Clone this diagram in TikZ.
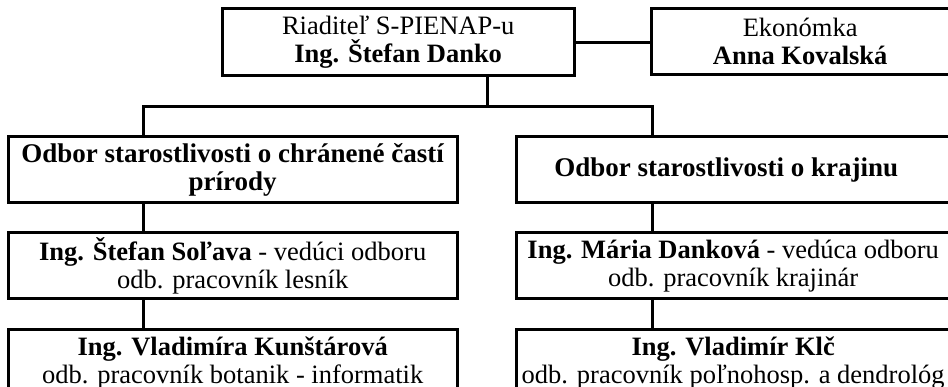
\documentclass[tikz,border=0pt]{standalone}
\usepackage{fontspec}
\setmainfont{Liberation Serif}
\usepackage{tikz}
\usetikzlibrary{positioning}
\tikzset{box/.style = {inner sep = 0, align = center, anchor = north west, minimum height = 66, font = \fontsize{26.5}{28}\selectfont}}
\tikzset{frame/.style = {line width = 3}}
\tikzset{wire/.style = {line width = 3}}

\begin{document}
\begin{tikzpicture}[x = 1pt, y = -1pt]
    \useasboundingbox (0, 0) rectangle (948, 387);
    \clip (0, 0) rectangle (948, 387);

    \node [box, minimum width = 352] (dir) at (222, 9) {Riaditeľ S-PIENAP-u\\ \textbf{Ing. Štefan Danko}};
    \node [box, minimum width = 298, minimum height = 65] (ekon) at (651, 9) {Ekonómka\\ \textbf{Anna Kovalská}};

    \node [box, minimum width = 449, minimum height = 65, font = \fontsize{27}{28}\selectfont\bfseries] (odbl) at (8, 137) {Odbor starostlivosti o chránené častí\\ prírody};
    \node [box, minimum width = 420, minimum height = 65, font = \fontsize{27}{28}\selectfont\bfseries] (odbr) at (516, 137) {Odbor starostlivosti o krajinu};

    \node [box, minimum width = 449, minimum height = 65] (vedl) at (8, 233) {\textbf{Ing. Štefan Soľava} - vedúci odboru\\ odb. pracovník lesník};
    \node [box, minimum width = 434, minimum height = 65] (vedr) at (516, 233) {\textbf{Ing. Mária Danková} - vedúca odboru\\ odb. pracovník krajinár};

    \node [box, minimum width = 449] (pracl) at (8, 330) {\textbf{Ing. Vladimíra Kunštárová}\\ odb. pracovník botanik - informatik};
    \node [box, minimum width = 434] (pracr) at (516, 330) {\textbf{Ing. Vladimír Klč}\\ odb. pracovník poľnohosp. a dendrológ};

    % frames, the right column runs past the edge
    \foreach \n in {dir, odbl, vedl, pracl}
        \draw [frame] (\n.north west) rectangle (\n.south east);
    \foreach \n in {ekon, odbr, vedr, pracr}
        \draw [frame] (\n.north west) rectangle ([xshift = 40] \n.south east);

    \coordinate (tap) at ([xshift = 265] dir.south west);
    \coordinate (busl) at ([xshift = 135, yshift = 30] odbl.north west);
    \coordinate (busr) at ([xshift = 136, yshift = 30] odbr.north west);

    \draw [wire] (dir.east) -- (dir.east -| ekon.west);
    \draw [wire] (tap) -- (tap |- busl);
    \draw [wire] (busl |- odbl.north) -- (busl) -- (busr) -- (busr |- odbr.north);

    \draw [wire] (busl |- odbl.south) -- (busl |- vedl.north);
    \draw [wire] (busl |- vedl.south) -- (busl |- pracl.north);
    \draw [wire] (busr |- odbr.south) -- (busr |- vedr.north);
    \draw [wire] (busr |- vedr.south) -- (busr |- pracr.north);
  \end{tikzpicture}
\end{document}
